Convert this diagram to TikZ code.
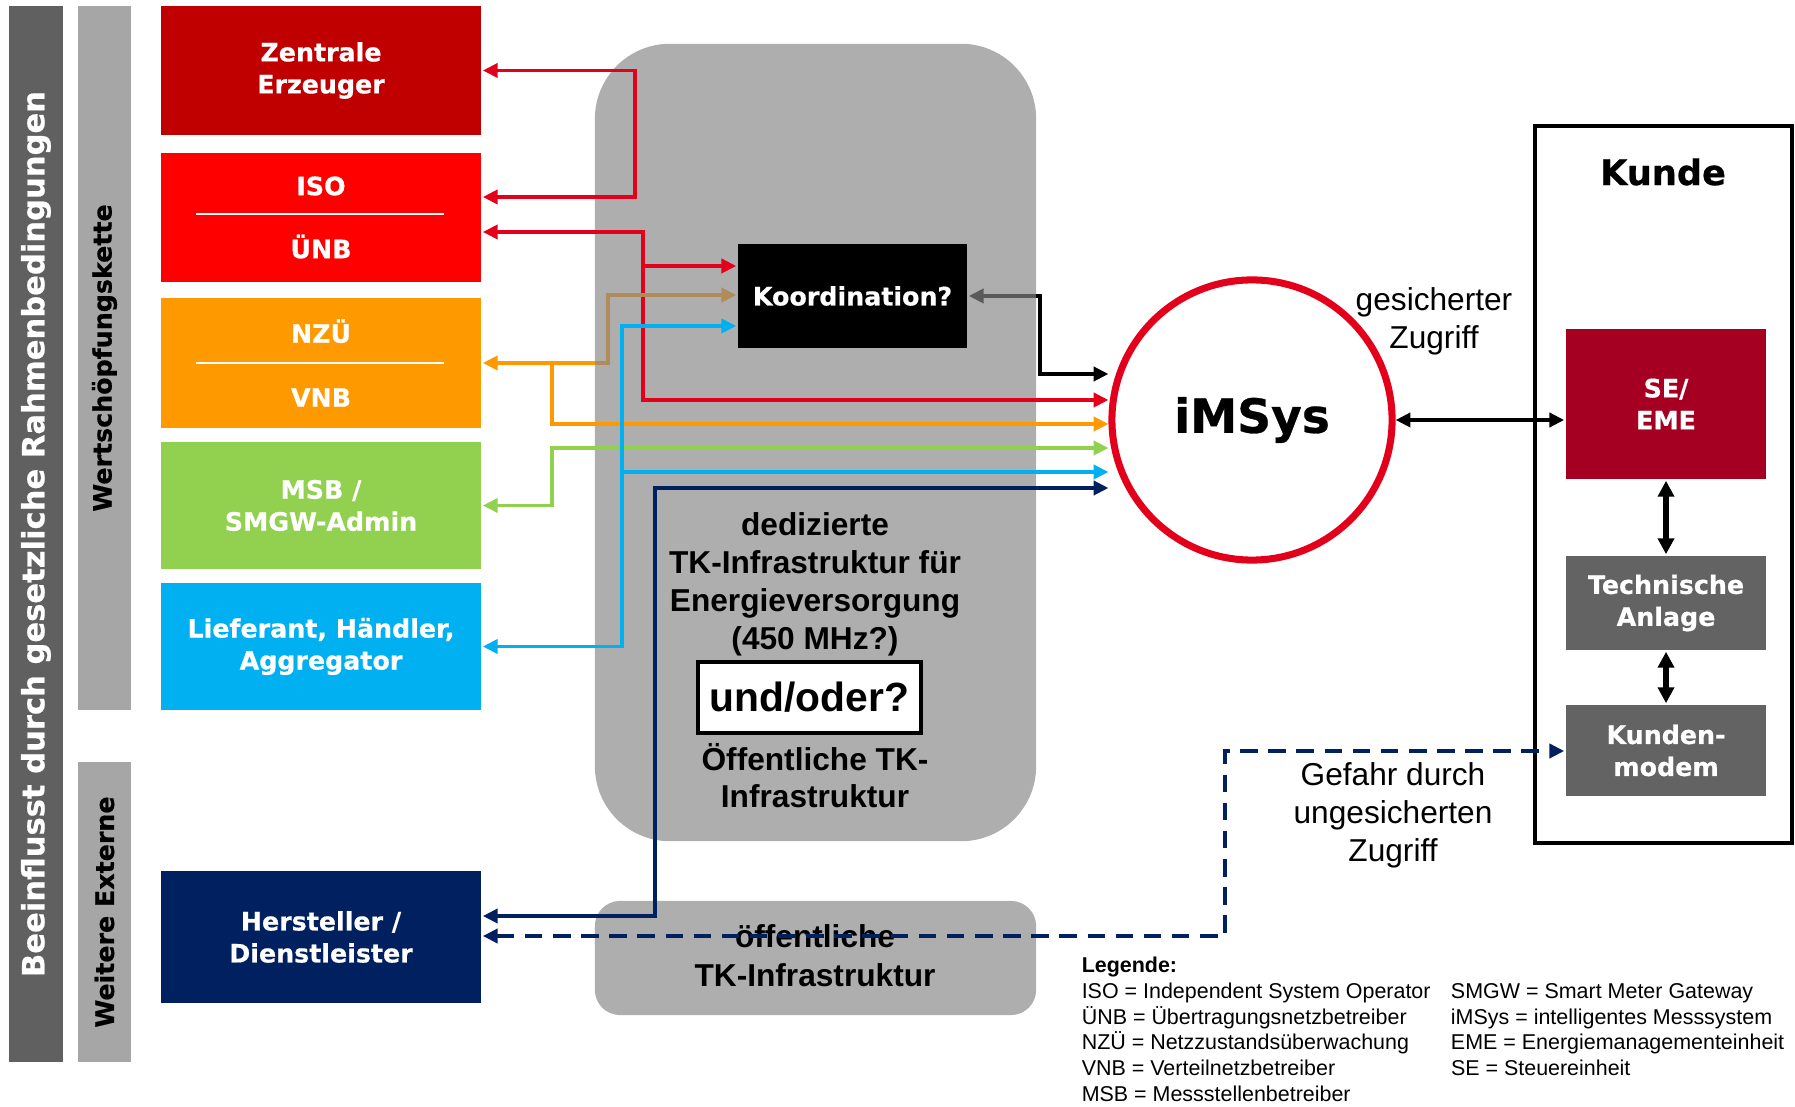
\documentclass[tikz,border=0pt]{standalone}
\usepackage{fontspec}
\setmainfont{Liberation Sans}
\newfontfamily\boxfont{DejaVu Sans}[BoldFeatures={FakeBold=0.6}]
\usetikzlibrary{arrows.meta}

\definecolor{zentralered}{HTML}{C00000}
\definecolor{isored}{HTML}{FF0000}
\definecolor{nzueorange}{HTML}{FF9900}
\definecolor{msbgreen}{HTML}{92D050}
\definecolor{liefblue}{HTML}{00B0F0}
\definecolor{herstnavy}{HTML}{002060}
\definecolor{sered}{HTML}{A50021}
\definecolor{kundegray}{HTML}{636363}
\definecolor{bardark}{HTML}{606060}
\definecolor{barlight}{HTML}{A6A6A6}
\definecolor{infragray}{HTML}{AEAEAE}
\definecolor{imsysred}{HTML}{E2001A}
\definecolor{tanline}{HTML}{B08C5A}
\definecolor{arrowgray}{HTML}{5A5A5A}

\tikzset{
every picture/.style={
line width=1pt
}}

\begin{document}
\begin{tikzpicture}[x=0.01cm, y=-0.01cm,
>={Triangle[length=4.2pt,width=4pt]},
actor/.style = {rectangle, minimum width=3.2cm, minimum height=1.29cm, inner sep=1pt, align=center, text=white, font=\boxfont\bfseries\fontsize{7.2}{9.1}\selectfont},
bar/.style = {rectangle, rotate=90, minimum height=0.53cm, inner sep=0pt, font=\boxfont\bfseries\fontsize{7.2}{9}\selectfont},
infra/.style = {rectangle, fill=infragray, minimum width=4.41cm},
note/.style = {align=center, inner sep=0pt, font=\fontsize{9}{10.8}\selectfont},
link/.style = {line width=1pt},
bold link/.style = {line width=1.5pt, >={Triangle[length=4.5pt,width=4.5pt]}}]
\useasboundingbox (0,0) rectangle (1795,1107);

\node[bar, fill=bardark, text=white, minimum width=10.56cm, font=\boxfont\bfseries\fontsize{8.7}{10}\selectfont] (rahmen) at (36,534) {Beeinflusst durch gesetzliche Rahmenbedingungen};
\node[bar, fill=barlight, minimum width=7.04cm] (kette) at (104.5,358) {Wertschöpfungskette};
\node[bar, fill=barlight, minimum width=3.0cm] (externe) at (104.5,912) {Weitere Externe};

\node[actor, fill=zentralered] (zentrale) at (321,70.5) {Zentrale\\Erzeuger};
\node[actor, fill=isored] (uenb) at (321,217.5) {ISO\\[8.8pt]ÜNB};
\node[actor, fill=nzueorange] (vnb) at (321,363) {NZÜ\\[9.1pt]VNB};
\node[actor, fill=msbgreen, minimum height=1.27cm] (msb) at (321,505.5) {MSB /\\SMGW-Admin};
\node[actor, fill=liefblue, minimum height=1.27cm] (lief) at (321,646.5) {Lieferant, Händler,\\Aggregator};
\node[actor, fill=herstnavy, minimum height=1.32cm] (herst) at (321,937) {Hersteller /\\Dienstleister};
\draw[white, line width=0.6pt] (196,214) -- (444,214);
\draw[white, line width=0.6pt] (196,363) -- (444,363);

\node[infra, minimum height=7.97cm, rounded corners=0.75cm] (dediziert) at (815.5,442.5) {};
\node[infra, minimum height=1.14cm, rounded corners=0.25cm] (oeffentlich) at (815.5,958) {};

\node[note, font=\bfseries\fontsize{9}{10.8}\selectfont] (dedtext) at (815,584) {dedizierte\\TK-Infrastruktur für\\Energieversorgung\\(450 MHz?)};
\node[draw, fill=white, line width=1.2pt, minimum width=2.19cm, minimum height=0.71cm, font=\bfseries\fontsize{11.6}{13}\selectfont] (undoder) at (809.5,697.5) {und/oder?};
\node[note, font=\bfseries\fontsize{9}{10.5}\selectfont] (oefftext) at (815,775.5) {Öffentliche TK-\\Infrastruktur};
\node[note, font=\bfseries\fontsize{9}{11.1}\selectfont] (tktext) at (815,955.5) {öffentliche\\TK-Infrastruktur};

\node[rectangle, fill=black, text=white, minimum width=2.29cm, minimum height=1.04cm, font=\boxfont\bfseries\fontsize{7.2}{9}\selectfont] (koord) at (852.5,296) {Koordination?};

\node[circle, draw=imsysred, line width=2pt, minimum size=2.8cm, font=\boxfont\bfseries\fontsize{13.4}{16}\selectfont] (imsys) at (1252,420) {iMSys};

\node[draw, line width=1.2pt, minimum width=2.57cm, minimum height=7.17cm] (kunde) at (1663.5,484.5) {};
\node[font=\boxfont\bfseries\fontsize{10}{12}\selectfont] (kundetitel) at (1663,172) {Kunde};
\node[actor, fill=sered, minimum width=2cm, minimum height=1.5cm] (se) at (1666,404) {SE/\\EME};
\node[actor, fill=kundegray, minimum width=2cm, minimum height=0.94cm] (technik) at (1666,603) {Technische\\Anlage};
\node[actor, fill=kundegray, minimum width=2cm, minimum height=0.91cm] (modem) at (1666,750.5) {Kunden-\\modem};

\node[note] (gesichert) at (1434,321) {gesicherter\\Zugriff};
\node[note] (gefahr) at (1393,815) {Gefahr durch\\ungesicherten\\Zugriff};

\node[anchor=north west, inner sep=0pt, font=\fontsize{6.1}{7.3}\selectfont] (legende) at (1080,953) {%
\begin{tabular}{@{}p{3.69cm}@{}l@{}}
\textbf{Legende:} & \\
ISO = Independent System Operator & SMGW = Smart Meter Gateway\\
ÜNB = Übertragungsnetzbetreiber & iMSys = intelligentes Messsystem\\
NZÜ = Netzzustandsüberwachung & EME = Energiemanagementeinheit\\
VNB = Verteilnetzbetreiber & SE = Steuereinheit\\
MSB = Messstellenbetreiber &
\end{tabular}};

\draw[link, imsysred, <->] (zentrale.east) -- (635,70.5) -- (635,197) -- (uenb.east |- 0,197);
\draw[link, imsysred, <->] (uenb.east |- 0,232) -- (643,232) -- (643,400) -- (imsys.west |- 0,400);
\draw[link, imsysred, ->] (643,266) -- (koord.west |- 0,266);
\draw[link, tanline, ->] (595,363) -| (608,295) -- (koord.west |- 0,295);
\draw[link, nzueorange, <->] (vnb.east) -- (552,363) -- (552,424) -- (imsys.west |- 0,424);
\draw[link, nzueorange] (552,363) -- (595,363);
\draw[link, msbgreen, <->] (msb.east) -- (552,505.5) -- (552,448) -- (imsys.west |- 0,448);
\draw[link, liefblue, <->] (lief.east) -- (622,646.5) -- (622,472) -- (imsys.west |- 0,472);
\draw[link, liefblue, ->] (622,472) -- (622,326) -- (koord.west |- 0,326);
\draw[link, herstnavy, <->] (herst.east |- 0,916) -- (655,916) -- (655,488) -- (imsys.west |- 0,488);
\draw[link, black, {Triangle[length=4.2pt,width=4pt,color=arrowgray]}-{Triangle[length=4.2pt,width=4pt]}] (koord.east) -- (1040,296) -- (1040,374) -- (imsys.west |- 0,374);
\draw[link, arrowgray, shorten <=3pt] (koord.east) -- (1036,296);
\draw[link, herstnavy, line width=1.1pt, dash pattern=on 5pt off 3pt, <->] (herst.east |- 0,936) -- (1225,936) -- (1225,751) -- (modem.west |- 0,751);
\draw[link, black, <->] (imsys.east) -- (se.west |- imsys.east);
\draw[bold link, <->] (se.south) -- (technik.north);
\draw[bold link, <->] (technik.south) -- (modem.north);
\end{tikzpicture}
\end{document}
